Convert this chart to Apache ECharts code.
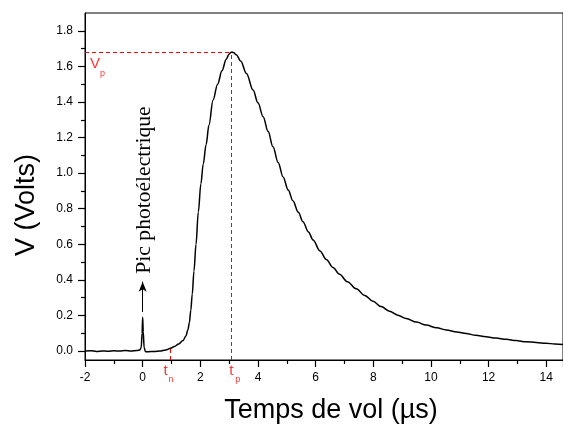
<!DOCTYPE html>
<html>
<head>
<meta charset="utf-8">
<script src="https://cdn.jsdelivr.net/npm/echarts@6/dist/echarts.min.js"></script>
<style>
html,body{margin:0;padding:0;background:#fff;}
#c{width:563px;height:427px;}
</style>
</head>
<body>
<div id="c"></div>
<script>
// ---- data ----
const times = [-2.0,-1.8,-1.6,-1.4,-1.2,-1.0,-0.8,-0.6,-0.4,-0.2,-0.1,-0.05,-0.02,0.0,0.02,0.05,0.1,0.2,0.4,0.6,0.8,0.97,1.1,1.25,1.4,1.5,1.57,1.62,1.67,1.72,1.78,1.85,1.93,2.02,2.1,2.2,2.3,2.44,2.6,2.75,2.9,3.0,3.07,3.15,3.25,3.4,3.6,3.83,4.0,4.18,4.35,4.52,4.7,4.87,5.05,5.21,5.4,5.56,5.75,5.91,6.15,6.37,6.6,6.83,7.1,7.41,7.7,7.99,8.27,8.56,8.85,9.14,9.5,9.83,10.2,10.53,10.9,11.22,11.55,11.91,12.25,12.61,12.95,13.3,13.65,13.99,14.3,14.6];
const volts = [0.000,0.002,-0.002,0.001,-0.001,0.002,0.000,0.003,0.001,0.004,0.006,0.02,0.10,0.19,0.11,0.02,-0.004,-0.003,-0.002,0.000,0.006,0.016,0.026,0.04,0.06,0.085,0.12,0.16,0.23,0.32,0.45,0.60,0.78,0.94,1.05,1.16,1.27,1.41,1.50,1.575,1.64,1.67,1.68,1.678,1.665,1.63,1.56,1.467,1.395,1.317,1.235,1.148,1.06,0.979,0.905,0.845,0.78,0.727,0.67,0.625,0.563,0.515,0.47,0.432,0.39,0.35,0.313,0.28,0.25,0.224,0.202,0.183,0.163,0.146,0.131,0.119,0.108,0.099,0.089,0.081,0.073,0.066,0.059,0.053,0.048,0.044,0.040,0.037];
const yTickMax = 1.8;
const xMin = -2, xMax = 14.58;
const yMin = -0.05, yMax = 1.9;
const Vp = 1.68, tp = 3.07, tn = 0.97, Vtn = 0.016;
const arrowFrom = 0.22, arrowTo = 0.39;

const sans = "'Liberation Sans', Arial, sans-serif";
const serif = "'Liberation Serif', 'Times New Roman', serif";
const red = '#ff0000';

const chart = echarts.init(document.getElementById('c'), null, {renderer:'canvas'});
const redDash = {color: red, type: [4,3], width: 1};

const L = 85, T = 13, W = 478, H = 347;
const pxPerV = H / (yMax - yMin);
const tickTop = T + (yMax - yTickMax) * pxPerV;
const tickH = yTickMax * pxPerV;

chart.setOption({
  animation: false,
  backgroundColor: '#fff',
  grid: [
    {left: L, top: T, width: W, height: H, show: true, borderColor: '#000', borderWidth: 1, backgroundColor: 'transparent'},
    {left: L, top: tickTop, width: W, height: tickH}
  ],
  xAxis: [{
    gridIndex: 0, type: 'value', min: xMin, max: xMax, interval: 2, position: 'bottom',
    axisLine: {show: true, onZero: false, lineStyle: {color: '#000', width: 1}},
    axisTick: {show: true, inside: false, length: 7, lineStyle: {color: '#000', width: 1.2}},
    minorTick: {show: true, splitNumber: 2, length: 4, lineStyle: {color: '#000', width: 1.2}},
    splitLine: {show: false}, minorSplitLine: {show: false},
    axisLabel: {color: '#000', fontSize: 12, fontFamily: sans, margin: 12, showMaxLabel: false}
  },{
    gridIndex: 1, type: 'value', min: xMin, max: xMax, show: false
  }],
  yAxis: [{
    gridIndex: 0, type: 'value', min: yMin, max: yMax, position: 'left',
    axisLine: {show: true, onZero: false, lineStyle: {color: '#000', width: 1}},
    axisTick: {show: false}, axisLabel: {show: false}, splitLine: {show: false}
  },{
    gridIndex: 1, type: 'value', min: 0, max: yTickMax, interval: 0.2, position: 'left',
    axisLine: {show: true, onZero: false, lineStyle: {color: '#000', width: 1}},
    axisTick: {show: true, inside: false, length: 7, lineStyle: {color: '#000', width: 1.2}},
    minorTick: {show: true, splitNumber: 2, length: 4, lineStyle: {color: '#000', width: 1.2}},
    axisLabel: {color: '#000', fontSize: 12, fontFamily: sans, margin: 12, formatter: v => v.toFixed(1)},
    splitLine: {show: false}, minorSplitLine: {show: false}
  }],
  graphic: [{
    type: 'text', x: 27, y: 205, rotation: Math.PI/2,
    style: {text: 'V (Volts)', fill: '#000', font: '27px ' + sans, align: 'center', verticalAlign: 'middle'}
  },{
    type: 'text', x: 331, y: 411,
    style: {text: 'Temps de vol (µs)', fill: '#000', font: '27px ' + sans, align: 'center', verticalAlign: 'middle'}
  },{
    type: 'text', x: 145, y: 190, rotation: Math.PI/2, scaleX: 1.08,
    style: {text: 'Pic photoélectrique', fill: '#000', font: '20px ' + serif, align: 'center', verticalAlign: 'middle'}
  }],
  series: [{
    type: 'line', xAxisIndex: 0, yAxisIndex: 0,
    data: times.map((t,i) => [t, volts[i]]),
    showSymbol: false, symbol: 'none', smooth: 0.35, smoothMonotone: 'x',
    lineStyle: {color: '#000', width: 1.5},
    silent: true,
    markLine: {
      silent: true, symbol: 'none', label: {show: false}, animation: false,
      data: [
        [{coord: [xMin, Vp], lineStyle: redDash}, {coord: [tp, Vp]}],
        [{coord: [tp, yMin], lineStyle: redDash}, {coord: [tp, Vp]}],
        [{coord: [tn, yMin], lineStyle: redDash}, {coord: [tn, Vtn]}],
        [{coord: [0, arrowFrom], symbol: 'none', lineStyle: {color: '#000', type: 'solid', width: 1}},
         {coord: [0, arrowTo], symbol: 'arrow', symbolSize: [6, 10]}]
      ]
    }
  },{
    type: 'scatter', xAxisIndex: 0, yAxisIndex: 0, symbolSize: 0, silent: true,
    data: [
      {value: [xMin, Vp], label: {show: true, formatter: 'V', position: [5, 4], fontSize: 15}},
      {value: [xMin, Vp], label: {show: true, formatter: 'p', position: [15, 17], fontSize: 9}},
      {value: [tn, yMin], label: {show: true, formatter: 't', position: [-7, 3], fontSize: 15}},
      {value: [tn, yMin], label: {show: true, formatter: 'n', position: [-2, 15], fontSize: 9}},
      {value: [tp, yMin], label: {show: true, formatter: 't', position: [-2, 3], fontSize: 15}},
      {value: [tp, yMin], label: {show: true, formatter: 'p', position: [4, 15], fontSize: 9}}
    ],
    label: {color: red, fontFamily: sans, align: 'left', verticalAlign: 'top'}
  }]
});
</script>
</body>
</html>
